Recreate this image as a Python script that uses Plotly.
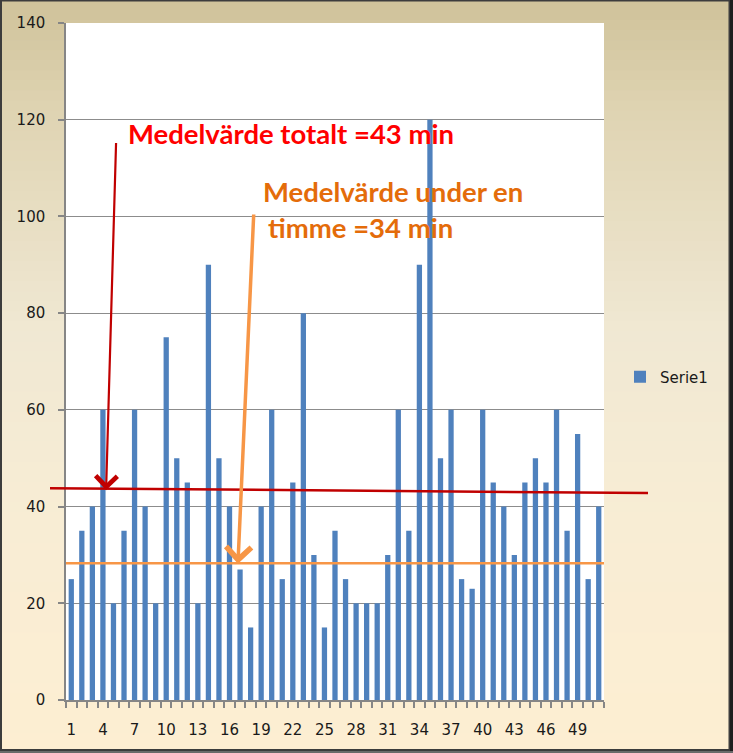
import plotly.graph_objects as go

# ---------------- data ----------------
categories = list(range(1, 52))
values = [25, 35, 40, 60, 20, 35, 60, 40, 20, 75,
          50, 45, 20, 90, 50, 40, 27, 15, 40, 60,
          25, 45, 80, 30, 15, 35, 25, 20, 20, 20,
          30, 60, 35, 90, 120, 50, 60, 25, 23, 60,
          45, 40, 30, 45, 50, 45, 60, 35, 55, 25, 40]
x_tick_vals = list(range(1, 52, 3))
x_tick_text = [str(v) for v in x_tick_vals]
y_tick_vals = [0, 20, 40, 60, 80, 100, 120, 140]
series_name = "Serie1"

total_mean_text = "Medelvärde totalt =43 min"
hour_mean_text_1 = "Medelvärde under en"
hour_mean_text_2 = "timme =34 min"
total_line_level = (43.8, 42.8)   # left / right (line drawn slightly sloped)
hour_line_level = 28.3

# ---------------- geometry helpers ----------------
FIG_W, FIG_H = 733, 753
L, R, T, B = 66, 604, 23, 700
PW, PH = R - L, B - T


def px(x):
    return (x - L) / PW


def py(y):
    return (B - y) / PH


def lerp(c1, c2, t):
    return tuple(round(a + (b - a) * t) for a, b in zip(c1, c2))


# background gradient stops (pixel y, rgb)
stops = [(0, (207, 194, 154)), (120, (224, 213, 180)), (330, (240, 232, 211)),
         (520, (248, 237, 212)), (753, (253, 238, 210))]


def grad_color(y):
    for (y0, c0), (y1, c1) in zip(stops[:-1], stops[1:]):
        if y0 <= y <= y1:
            return lerp(c0, c1, (y - y0) / (y1 - y0))
    return stops[-1][1]


shapes = []
n_bands = 75
band_h = FIG_H / n_bands
for i in range(n_bands):
    y0 = i * band_h
    y1 = (i + 1) * band_h + 0.8
    c = grad_color(y0 + band_h / 2)
    shapes.append(dict(type="rect", xref="paper", yref="paper",
                       x0=px(0), x1=px(FIG_W), y0=py(y1), y1=py(y0),
                       line=dict(width=0), fillcolor="rgb(%d,%d,%d)" % c,
                       layer="below"))
# white plot area
shapes.append(dict(type="rect", xref="paper", yref="paper", x0=0, x1=1, y0=0, y1=1,
                   line=dict(width=0), fillcolor="white", layer="below"))
# outer frame
shapes.append(dict(type="rect", xref="paper", yref="paper",
                   x0=px(1), x1=px(729.5), y0=py(750), y1=py(0.5),
                   line=dict(color="#3c3c3c", width=2), fillcolor="rgba(0,0,0,0)",
                   layer="above"))
shapes.append(dict(type="rect", xref="paper", yref="paper",
                   x0=px(730), x1=px(FIG_W + 2), y0=py(FIG_H + 2), y1=py(-2),
                   line=dict(width=0), fillcolor="#1e1e1e", layer="above"))
shapes.append(dict(type="rect", xref="paper", yref="paper",
                   x0=px(-2), x1=px(FIG_W + 2), y0=py(FIG_H + 2), y1=py(751),
                   line=dict(width=0), fillcolor="#6a6a6a", layer="above"))

# mean lines
shapes.append(dict(type="line", xref="paper", yref="y",
                   x0=px(50), x1=px(648), y0=total_line_level[0], y1=total_line_level[1],
                   line=dict(color="#C00000", width=2.5), layer="above"))
shapes.append(dict(type="line", xref="paper", yref="y",
                   x0=0, x1=1, y0=hour_line_level, y1=hour_line_level,
                   line=dict(color="#F79646", width=2.5), layer="above"))

fig = go.Figure()
fig.add_trace(go.Bar(x=categories, y=values, name=series_name,
                     marker=dict(color="#4F81BD", line=dict(width=0)),
                     showlegend=True))

text_font = dict(family="Lato", size=27.5, weight="bold")
annotations = [
    # arrows
    dict(x=4.3, y=43.4, xref="x", yref="y", ax=5.25, ay=115.5, axref="x", ayref="y",
         text="", showarrow=True, arrowhead=4, arrowsize=1.9, arrowwidth=2.2,
         arrowcolor="#C00000", standoff=0),
    dict(x=16.8, y=28.2, xref="x", yref="y", ax=18.3, ay=100.7, axref="x", ayref="y",
         text="", showarrow=True, arrowhead=4, arrowsize=1.4, arrowwidth=3.5,
         arrowcolor="#F79646", standoff=0),
    # texts
    dict(x=px(126), y=py(133), xref="paper", yref="paper", xanchor="left", yanchor="middle",
         text=total_mean_text, showarrow=False, font=dict(text_font, color="#FF0000")),
    dict(x=px(261), y=py(191), xref="paper", yref="paper", xanchor="left", yanchor="middle",
         text=hour_mean_text_1, showarrow=False, font=dict(text_font, color="#E46C0A")),
    dict(x=px(266), y=py(228), xref="paper", yref="paper", xanchor="left", yanchor="middle",
         text=hour_mean_text_2, showarrow=False, font=dict(text_font, color="#E46C0A")),
]

tick_font = dict(family="DejaVu Sans", size=15, color="#1a1a1a")

fig.update_layout(
    width=FIG_W, height=FIG_H,
    margin=dict(l=L, r=FIG_W - R, t=T, b=FIG_H - B, pad=0, autoexpand=False),
    paper_bgcolor="rgb(240,232,211)",
    plot_bgcolor="white",
    bargap=0.5,
    shapes=shapes,
    annotations=annotations,
    showlegend=True,
    legend=dict(x=px(620), y=py(377), xanchor="left", yanchor="middle",
                bgcolor="rgba(0,0,0,0)", font=dict(family="DejaVu Sans", size=15, color="#1a1a1a")),
    xaxis=dict(range=[0.5, 51.5], tickmode="array", tickvals=x_tick_vals, ticktext=x_tick_text,
               ticks="", showgrid=False, zeroline=False, automargin=False,
               showline=True, linecolor="#868686", linewidth=1.5,
               ticklabelstandoff=15, tickfont=tick_font,
               minor=dict(ticks="outside", ticklen=6, tickcolor="#868686", tickwidth=1.5,
                          tick0=0.5, dtick=1, showgrid=False)),
    yaxis=dict(range=[0, 140], tickmode="array", tickvals=y_tick_vals, automargin=False,
               ticks="outside", ticklen=6, tickcolor="#868686", tickwidth=1.5,
               showgrid=True, gridcolor="#8c8c8c", gridwidth=1.2, zeroline=False,
               showline=True, linecolor="#868686", linewidth=1.5,
               ticklabelstandoff=10, tickfont=tick_font),
)

fig.write_html("out.html", config={"displayModeBar": False},
               post_script="document.body.style.margin='0';document.body.style.overflow='hidden';")
